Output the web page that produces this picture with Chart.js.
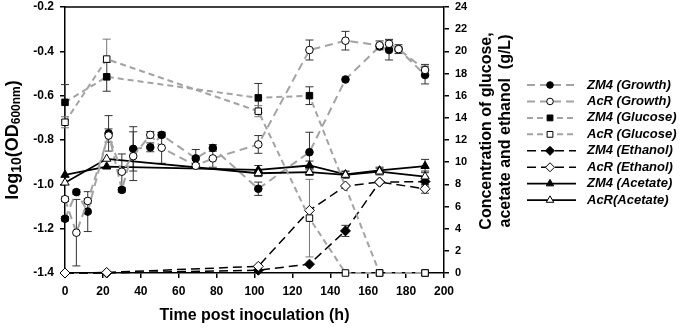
<!DOCTYPE html>
<html>
<head>
<meta charset="utf-8">
<script src="https://cdn.jsdelivr.net/npm/chart.js"></script>
<style>
  html, body { margin: 0; padding: 0; background: #fff; }
  #wrap { width: 680px; height: 329px; }
</style>
</head>
<body>
<div id="wrap"><canvas id="growthChart" width="680" height="329"></canvas></div>
<script>
// growth (log10 OD600) sampling times and values
const growthTimes = [0, 6, 12, 23, 30, 36, 45, 51, 69, 78, 102, 129, 148, 166, 171, 176, 190];
const zm4Growth = [-1.155, -1.035, -1.123, -0.77, -1.025, -0.84, -0.833, -0.777, -0.883, -0.836, -1.02, -0.855, -0.527, -0.378, -0.394, -0.39, -0.507];
const zm4GrowthErr = [0.01, 0.01, 0.09, 0.08, 0.01, 0.1, 0.02, 0.01, 0.04, 0.015, 0.03, 0.09, 0, 0.01, 0.045, 0.01, 0.04];
const acrGrowth = [-1.067, -1.218, -1.075, -0.78, -0.943, -0.873, -0.777, -0.835, -0.916, -0.883, -0.82, -0.394, -0.352, -0.373, -0.366, -0.39, -0.484];
const acrGrowthErr = [0.01, 0.15, 0.01, 0.03, 0.08, 0.11, 0.015, 0.07, 0.01, 0.04, 0.04, 0.045, 0.042, 0.02, 0.02, 0.02, 0.025];

// metabolite (g/L) sampling times and values
const metabTimes = [0, 22, 102, 129, 148, 166, 190];
const zm4Glucose = [15.4, 17.7, 15.8, 16.0, null, 0, 0];
const zm4GlucoseErr = [1.6, 1.3, 1.3, 0.8, 0, 0, 0];
const acrGlucose = [13.6, 19.3, 14.6, 4.95, 0, 0, 0];
const acrGlucoseErr = [0.5, 1.8, 0.5, 3.5, 0, 0, 0];
const zm4Ethanol = [0, 0, 0.25, 0.8, 3.8, 8.2, 8.25];
const zm4EthanolErr = [0, 0, 0, 0, 0.5, 0, 0.4];
const acrEthanol = [0, 0.05, 0.6, 5.65, 7.85, 8.2, 7.6];
const acrEthanolErr = [0, 0, 0, 0, 0, 0, 0.4];
const zm4Acetate = [8.85, 9.6, 9.3, 9.7, 8.9, 9.25, 9.65];
const zm4AcetateErr = [0, 0, 0.4, 0.4, 0.3, 0.3, 0.6];
const acrAcetate = [8.15, 10.3, 9.0, 9.1, 8.85, 9.15, 8.7];
const acrAcetateErr = [0, 0, 0.3, 0.3, 0.3, 0.3, 0.5];

const yTicksLeft = ['-1.4', '-1.2', '-1.0', '-0.8', '-0.6', '-0.4', '-0.2'];

const GREY = '#a3a3a3';
const FONT = "'Liberation Sans', Arial, sans-serif";
Chart.defaults.font.family = FONT;
Chart.defaults.color = '#000';

function pts(xs, ys) {
    return xs.map((x, i) => ({ x: x, y: ys[i] }));
}

function series(label, xs, ys, errs, opts) {
    return Object.assign({
        label: label,
        data: pts(xs, ys),
        errors: errs,
        borderWidth: 2,
        pointBorderWidth: 1,
        pointBorderColor: '#000',
        pointRadius: 4,
        pointHoverRadius: 4,
        spanGaps: true,
        clip: false,
        fill: false,
        tension: 0,
    }, opts);
}

const datasets = [
    series('ZM4 (Growth)', growthTimes, zm4Growth, zm4GrowthErr, {
        yAxisID: 'y', borderColor: GREY, borderDash: [8, 5], pointStyle: 'circle',
        pointBackgroundColor: '#000', pointRadius: 3.8, order: 1 }),
    series('AcR (Growth)', growthTimes, acrGrowth, acrGrowthErr, {
        yAxisID: 'y', borderColor: GREY, borderDash: [8, 5], pointStyle: 'circle',
        pointBackgroundColor: '#fff', pointRadius: 3.8, order: 0 }),
    series('ZM4 (Glucose)', metabTimes, zm4Glucose, zm4GlucoseErr, {
        yAxisID: 'y2', borderColor: GREY, borderDash: [6, 4], pointStyle: 'rect',
        pointBackgroundColor: '#000', pointRadius: 4.6, order: 1 }),
    series('AcR (Glucose)', metabTimes, acrGlucose, acrGlucoseErr, {
        yAxisID: 'y2', borderColor: GREY, borderDash: [6, 4], pointStyle: 'rect',
        pointBackgroundColor: '#fff', pointRadius: 4.6, order: 0, errorColor: '#777' }),
    series('ZM4 (Ethanol)', metabTimes, zm4Ethanol, zm4EthanolErr, {
        yAxisID: 'y2', borderColor: '#000', borderWidth: 1.5, borderDash: [9, 5], pointStyle: 'rectRot',
        pointBackgroundColor: '#000', pointRadius: 5, order: 1 }),
    series('AcR (Ethanol)', metabTimes, acrEthanol, acrEthanolErr, {
        yAxisID: 'y2', borderColor: '#000', borderWidth: 1.5, borderDash: [9, 5], pointStyle: 'rectRot',
        pointBackgroundColor: '#fff', pointRadius: 5, order: 0 }),
    series('ZM4 (Acetate)', metabTimes, zm4Acetate, zm4AcetateErr, {
        yAxisID: 'y2', borderColor: '#000', borderWidth: 1.8, pointStyle: 'triangle',
        pointBackgroundColor: '#000', pointRadius: 4.8, order: 1 }),
    series('AcR(Acetate)', metabTimes, acrAcetate, acrAcetateErr, {
        yAxisID: 'y2', borderColor: '#000', borderWidth: 1.8, pointStyle: 'triangle',
        pointBackgroundColor: '#fff', pointRadius: 4.8, order: 0 }),
];

// vertical error bars with caps, drawn under the markers
const errorBars = {
    id: 'errorBars',
    beforeDatasetsDraw(chart) {
        const ctx = chart.ctx;
        const xs = chart.scales.x;
        chart.data.datasets.forEach(ds => {
            if (!ds.errors) return;
            const ys = chart.scales[ds.yAxisID];
            ctx.save();
            ctx.strokeStyle = ds.errorColor || '#333';
            ctx.lineWidth = 1;
            ds.data.forEach((p, j) => {
                const e = ds.errors[j];
                if (p.y == null || !e) return;
                const px = xs.getPixelForValue(p.x);
                const top = ys.getPixelForValue(p.y + e);
                const bot = ys.getPixelForValue(p.y - e);
                ctx.beginPath();
                ctx.moveTo(px, top); ctx.lineTo(px, bot);
                ctx.moveTo(px - 4, top); ctx.lineTo(px + 4, top);
                ctx.moveTo(px - 4, bot); ctx.lineTo(px + 4, bot);
                ctx.stroke();
            });
            ctx.restore();
        });
    }
};

// frame top line, rotated axis titles and the side legend
const decorations = {
    id: 'decorations',
    afterDraw(chart) {
        const ctx = chart.ctx;
        const a = chart.chartArea;
        ctx.save();
        ctx.strokeStyle = '#000';
        ctx.lineWidth = 1.5;
        ctx.beginPath();
        ctx.moveTo(a.left, a.top);
        ctx.lineTo(a.right, a.top);
        ctx.stroke();

        // left title with subscripts
        const parts = [['log', 18, 0], ['10', 14, 4], ['(OD', 18, 0], ['600nm', 12, 4], [')', 18, 0]];
        let total = 0;
        parts.forEach(p => {
            ctx.font = 'bold ' + p[1] + 'px ' + FONT;
            p.push(ctx.measureText(p[0]).width);
            total += p[3];
        });
        ctx.translate(13, (a.top + a.bottom) / 2);
        ctx.rotate(-Math.PI / 2);
        ctx.fillStyle = '#000';
        ctx.textBaseline = 'middle';
        let cx = -total / 2;
        parts.forEach(p => {
            ctx.font = 'bold ' + p[1] + 'px ' + FONT;
            ctx.fillText(p[0], cx, p[2]);
            cx += p[3];
        });
        ctx.restore();

        // right title, two lines reading upwards
        ctx.save();
        ctx.fillStyle = '#000';
        ctx.font = 'bold 16px ' + FONT;
        ctx.textAlign = 'center';
        ctx.textBaseline = 'middle';
        ctx.translate(a.right + 43, 131);
        ctx.rotate(-Math.PI / 2);
        ctx.fillText('Concentration of glucose,', 0, 0);
        ctx.fillText('acetate and ethanol  (g/L)', 0, 19);
        ctx.restore();

        // legend
        ctx.save();
        const x1 = a.right + 83, x2 = a.right + 132, mx = a.right + 106, tx = a.right + 143;
        chart.data.datasets.forEach((ds, i) => {
            const y = 85 + i * 16.45;
            ctx.strokeStyle = ds.borderColor;
            ctx.lineWidth = ds.borderWidth;
            ctx.setLineDash(ds.borderDash || []);
            ctx.beginPath();
            ctx.moveTo(x1, y); ctx.lineTo(x2, y);
            ctx.stroke();
            ctx.setLineDash([]);
            ctx.fillStyle = ds.pointBackgroundColor;
            ctx.strokeStyle = '#000';
            ctx.lineWidth = 1;
            Chart.helpers.drawPoint(ctx, {
                pointStyle: ds.pointStyle, radius: ds.pointRadius - 0.5, rotation: 0, borderWidth: 1
            }, mx, y);
            ctx.fillStyle = '#000';
            ctx.font = 'italic bold 13px ' + FONT;
            ctx.textBaseline = 'middle';
            ctx.fillText(ds.label, tx, y);
        });
        ctx.restore();
    }
};

const tickFont = { size: 12, weight: 'bold' };

function fitY(width) {
    return function (s) {
        s.width = width;
        s.paddingTop = 0;
        s.paddingBottom = 0;
    };
}

new Chart(document.getElementById('growthChart').getContext('2d'), {
    type: 'line',
    data: { datasets: datasets },
    plugins: [errorBars, decorations],
    options: {
        responsive: false,
        animation: false,
        events: [],
        layout: { padding: { top: 7, left: 0, right: 0, bottom: 0 } },
        plugins: { legend: { display: false }, tooltip: { enabled: false } },
        scales: {
            x: {
                type: 'linear',
                min: 0, max: 200,
                ticks: { stepSize: 20, font: tickFont, color: '#000', padding: 6, maxRotation: 0 },
                grid: { drawOnChartArea: false, drawTicks: true, tickLength: 5, color: '#000', lineWidth: 1.5 },
                border: { color: '#000', width: 1.5 },
                title: {
                    display: true, text: 'Time post inoculation (h)', color: '#000',
                    font: { size: 16, weight: 'bold' }, padding: { top: 0, bottom: 4 }
                },
                afterFit(s) { s.height = 56; s.paddingLeft = 0; s.paddingRight = 0; }
            },
            y: {
                position: 'left',
                min: -1.4, max: -0.2,
                afterBuildTicks(s) { s.ticks = yTicksLeft.map(t => ({ value: parseFloat(t) })); },
                ticks: {
                    font: tickFont, color: '#000', padding: 6,
                    callback: (v, i) => yTicksLeft[i]
                },
                grid: { drawOnChartArea: false, drawTicks: true, tickLength: 5, color: '#000', lineWidth: 1.5 },
                border: { color: '#000', width: 1.5 },
                afterFit: fitY(65)
            },
            y2: {
                position: 'right',
                min: 0, max: 24,
                ticks: { stepSize: 2, font: { size: 11, weight: 'bold' }, color: '#000', padding: 6 },
                grid: { drawOnChartArea: false, drawTicks: true, tickLength: 5, color: '#000', lineWidth: 1.5 },
                border: { color: '#000', width: 1.5 },
                afterFit: fitY(236)
            }
        }
    }
});
</script>
</body>
</html>
